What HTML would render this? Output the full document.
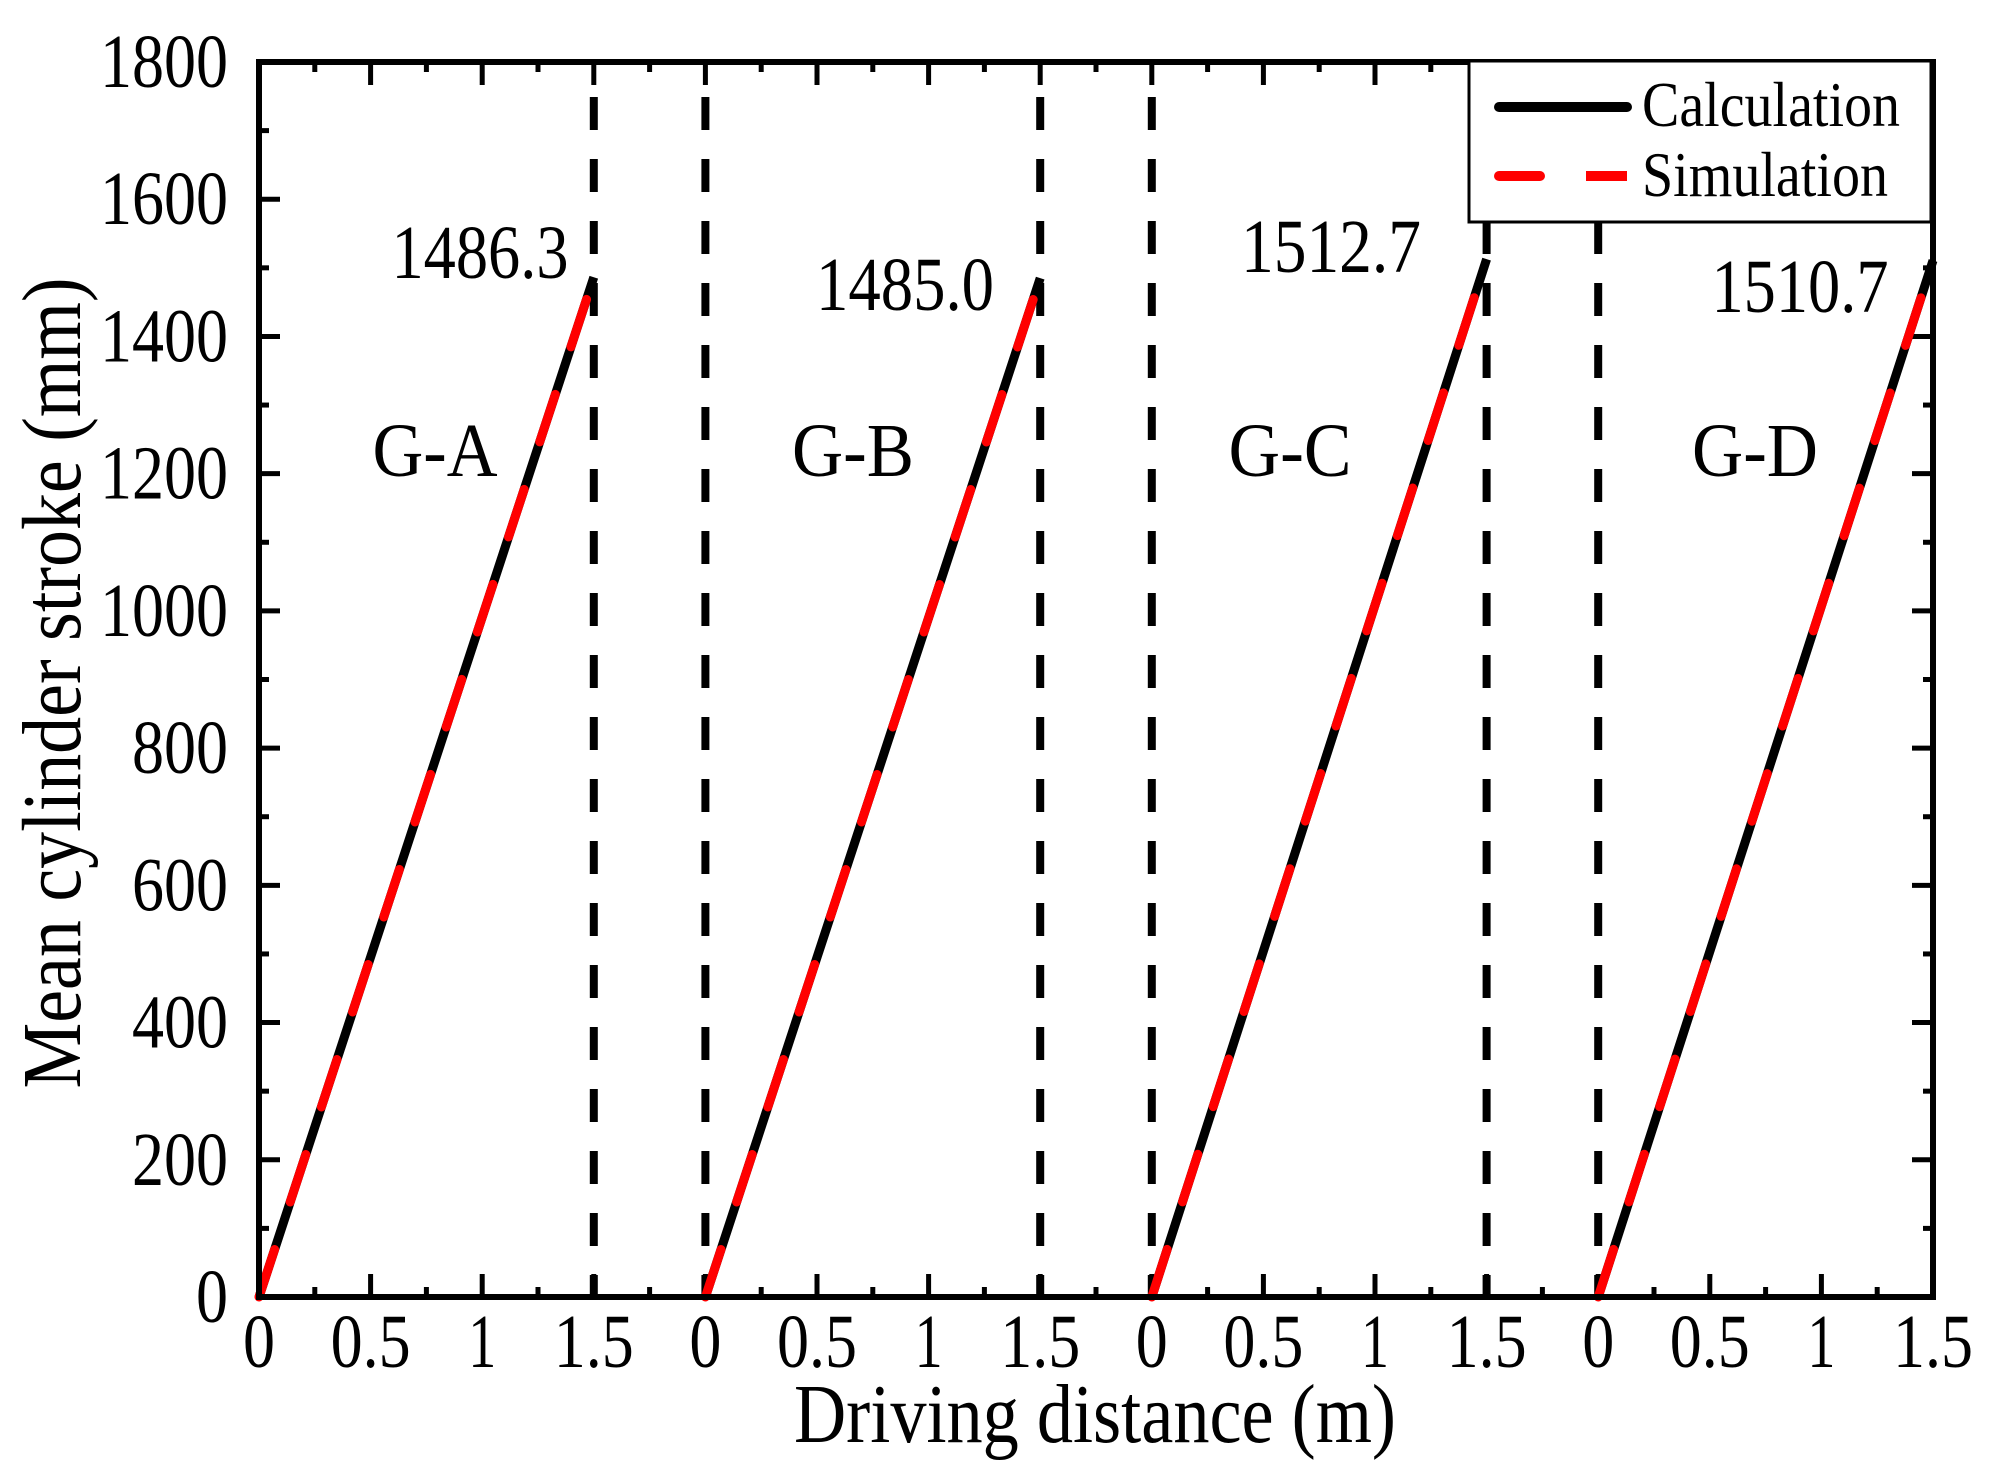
<!DOCTYPE html>
<html><head><meta charset="utf-8"><style>html,body{margin:0;padding:0;background:#fff}svg{display:block}</style></head>
<body>
<svg width="2008" height="1468" viewBox="0 0 2008 1468" xmlns="http://www.w3.org/2000/svg" font-family="'Liberation Serif', serif">
<rect width="2008" height="1468" fill="#fff"/>
<g id="ticks" stroke="#000" stroke-width="5"></g>
<g id="vd" stroke="#000" stroke-width="8" stroke-dasharray="33 29"></g>
<g id="series" fill="none" stroke-width="9"></g>
<rect x="259" y="62" width="1674" height="1235" fill="none" stroke="#000" stroke-width="6"/>
<g font-size="76" text-anchor="end" id="ylab"></g>
<g font-size="76" text-anchor="middle" id="xlab"></g>
<g font-size="76" text-anchor="middle">
<text x="435" y="476" textLength="125" lengthAdjust="spacingAndGlyphs">G-A</text><text x="853" y="476" textLength="122" lengthAdjust="spacingAndGlyphs">G-B</text><text x="1290" y="476" textLength="123" lengthAdjust="spacingAndGlyphs">G-C</text><text x="1755" y="476" textLength="126" lengthAdjust="spacingAndGlyphs">G-D</text>
<text x="480" y="278" textLength="177" lengthAdjust="spacingAndGlyphs">1486.3</text><text x="905" y="310" textLength="178" lengthAdjust="spacingAndGlyphs">1485.0</text><text x="1331" y="272" textLength="180" lengthAdjust="spacingAndGlyphs">1512.7</text><text x="1800" y="312" textLength="177" lengthAdjust="spacingAndGlyphs">1510.7</text>
</g>
<text x="1095" y="1442" font-size="84" text-anchor="middle" textLength="602" lengthAdjust="spacingAndGlyphs">Driving distance (m)</text>
<text transform="translate(80,683) rotate(-90)" font-size="84" text-anchor="middle" textLength="811" lengthAdjust="spacingAndGlyphs">Mean cylinder stroke (mm)</text>
<rect x="1469" y="61" width="462" height="161" fill="#fff" stroke="#000" stroke-width="3"/>
<line x1="1499" y1="107" x2="1627" y2="107" stroke="#000" stroke-width="10" stroke-linecap="round"/>
<line x1="1499" y1="176" x2="1540" y2="176" stroke="#f00" stroke-width="10" stroke-linecap="round"/>
<line x1="1586" y1="176" x2="1627" y2="176" stroke="#f00" stroke-width="10"/>
<text x="1642" y="126" font-size="64" textLength="258" lengthAdjust="spacingAndGlyphs">Calculation</text>
<text x="1642" y="196" font-size="64" textLength="246" lengthAdjust="spacingAndGlyphs">Simulation</text>
<script>
const L=259,R=1933,T=62,B=1297,U=223.2,ns="http://www.w3.org/2000/svg";
const Y=v=>B-(v/1800)*(B-T), X=u=>L+u*U;
function el(p,t,a,txt){const e=document.createElementNS(ns,t);for(const k in a)e.setAttribute(k,a[k]);if(txt!==undefined)e.textContent=txt;document.getElementById(p).appendChild(e);}
const tl={"0":32,"1":28,"0.5":80,"1.5":80};
for(let v=0;v<=1800;v+=100){const len=v%200==0?21:10,y=Y(v);
 el('ticks','line',{x1:L,y1:y,x2:L+len,y2:y});el('ticks','line',{x1:R,y1:y,x2:R-len,y2:y});
 if(v%200==0){const s=String(v);el('ylab','text',{x:228,y:y+25,textLength:s.length*32,lengthAdjust:'spacingAndGlyphs'},s);}}
for(let i=0;i<=30;i++){const u=i*0.25,x=X(u),len=i%2==0?23:10;
 el('ticks','line',{x1:x,y1:B,x2:x,y2:B-len});el('ticks','line',{x1:x,y1:T,x2:x,y2:T+len});}
const labs=['0','0.5','1','1.5'];
for(let p=0;p<4;p++){for(let j=0;j<4;j++)el('xlab','text',{x:X(p*2+j*0.5),y:1367,textLength:tl[labs[j]],lengthAdjust:'spacingAndGlyphs'},labs[j]);}
[1.5,2,3.5,4,5.5,6].forEach(u=>el('vd','line',{x1:X(u),y1:97,x2:X(u),y2:B}));
const vals=[1486.3,1485.0,1512.7,1510.7];
vals.forEach((v,p)=>{const a={x1:X(p*2),y1:B,x2:X(p*2+1.5),y2:Y(v)};
 el('series','line',Object.assign({stroke:'#000'},a));
 el('series','line',Object.assign({stroke:'#f00','stroke-dasharray':'50 50','stroke-linecap':'round'},a));});
</script>
</svg>
</body></html>
